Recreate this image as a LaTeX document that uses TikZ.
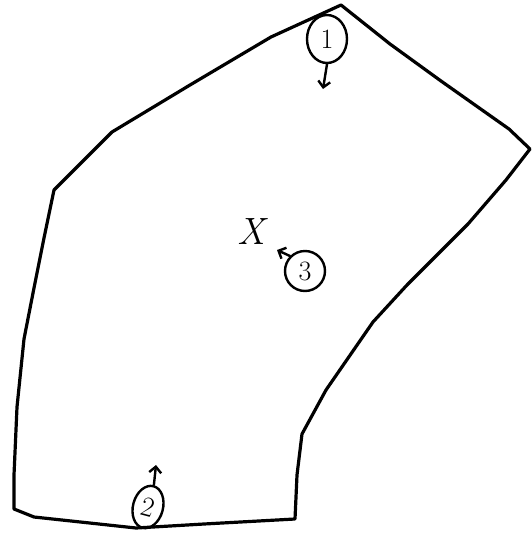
\documentclass[tikz,border=0pt]{standalone}
\usetikzlibrary{shapes.geometric,arrows.meta}
\begin{document}
\begin{tikzpicture}[x=1pt,y=-1pt,
  outline/.style={line width=3.2pt,line join=round,line cap=round},
  tag/.style={ellipse,draw,line width=2.4pt,inner sep=0pt,font=\fontsize{28}{28}\selectfont},
  pointer/.style={line width=2.4pt,line cap=round,-{Straight Barb[length=6pt,width=12pt]}}]
\useasboundingbox (0,0) rectangle (532,555);
\draw[outline] (341,5) -- (271,37) -- (190,85) -- (112,132) -- (54,190)
  -- (44,238) -- (34,288) -- (24,339) -- (17,407) -- (14,475) -- (14,509)
  -- (34,517) -- (136,528) -- (204,524) -- (295,519)
  -- (297,475) -- (302,434) -- (326,390) -- (373,322) -- (407,285)
  -- (468,224) -- (506,180) -- (530,149)
  -- (509,129) -- (441,81) -- (390,44) -- cycle;
\node[tag,minimum width=40pt,minimum height=48pt] (t1) at (327,39) {1};
\coordinate (e1) at (323,89);
\draw[pointer] (t1.south) -- (e1);
\node[tag,minimum width=40pt,minimum height=40pt] (t3) at (305,271) {3};
\coordinate (e3) at (277,250);
\draw[pointer] (t3.north west) -- (e3);
\node[tag,rotate=-15,minimum width=30pt,minimum height=43pt] (t2) at (148,507) {2};
\coordinate (e2) at (156,465);
\draw[pointer] (t2.north) -- (e2);
\node[font=\fontsize{38}{38}\selectfont\itshape] (x) at (251,232) {X};
\end{tikzpicture}
\end{document}
